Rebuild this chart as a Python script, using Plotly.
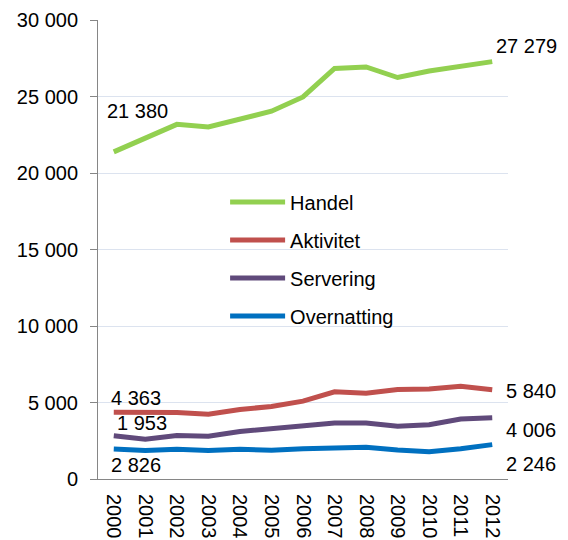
import plotly.graph_objects as go

years = [str(y) for y in range(2000, 2013)]
handel = [21380, 22250, 23180, 23010, 23560, 24040, 24970, 26830, 26930, 26240, 26670, 27000, 27279]
aktivitet = [4363, 4380, 4340, 4240, 4545, 4740, 5090, 5700, 5600, 5850, 5880, 6060, 5840]
servering = [2826, 2600, 2845, 2790, 3100, 3280, 3450, 3660, 3660, 3450, 3550, 3920, 4006]
overnatting = [1953, 1860, 1950, 1860, 1950, 1880, 1980, 2050, 2080, 1900, 1780, 1975, 2246]

series = [
    ("Handel", handel, "#92D050"),
    ("Aktivitet", aktivitet, "#C0504D"),
    ("Servering", servering, "#604A7B"),
    ("Overnatting", overnatting, "#0070C0"),
]

FONT = "Liberation Sans, Arial, sans-serif"
FS = 20
fig = go.Figure()
for i, (name, vals, col) in enumerate(series):
    fig.add_trace(go.Scatter(x=years, y=vals, name=name, mode="lines",
                             line=dict(color=col, width=5),
                             legendgroup=name, hoverinfo="x+y+name"))

# data labels (text, series, index, xshift, yshift)
labels = [
    ("21 380", handel, 0, -9, 41),
    ("27 279", handel, 12, 2, 16),
    ("4 363", aktivitet, 0, -5, 14),
    ("1 953", overnatting, 0, 1, 26),
    ("2 826", servering, 0, -5, -29),
    ("5 840", aktivitet, 12, 12, -1),
    ("4 006", servering, 12, 12, -12),
    ("2 246", overnatting, 12, 12, -19),
]
for txt, vals, idx, xs, ys in labels:
    fig.add_annotation(x=idx, y=vals[idx], xref="x", yref="y", text=txt,
                       showarrow=False, xanchor="left", yanchor="middle",
                       xshift=xs, yshift=ys,
                       font=dict(family=FONT, size=FS, color="#000000"))

fig.update_layout(
    width=560, height=532,
    margin=dict(l=90, r=60, t=11.5, b=60.5, autoexpand=False),
    paper_bgcolor="white", plot_bgcolor="white",
    font=dict(family=FONT, size=FS, color="#000000"),
    showlegend=True,
    legend=dict(x=0.31, y=0.646, xanchor="left", yanchor="top",
                bgcolor="rgba(0,0,0,0)", tracegroupgap=9,
                traceorder="grouped", itemwidth=55,
                font=dict(family=FONT, size=FS)),
    xaxis=dict(type="category", showgrid=False, showline=True,
               linecolor="#868686", linewidth=1, ticks="",
               tickangle=90, tickfont=dict(family=FONT, size=FS),
               ticklabelstandoff=10,
               range=[-0.5, 12.5], automargin=False),
    yaxis=dict(range=[0, 30000], dtick=5000, showgrid=True,
               gridcolor="#DCE3EF", gridwidth=1, zeroline=False,
               showline=True, linecolor="#868686", linewidth=1,
               ticks="outside", ticklen=7, tickcolor="#868686",
               tickformat=",d", automargin=False, ticklabelstandoff=8,
               tickfont=dict(family=FONT, size=FS)),
    separators=", ",
)

fig.write_html("out.html")
